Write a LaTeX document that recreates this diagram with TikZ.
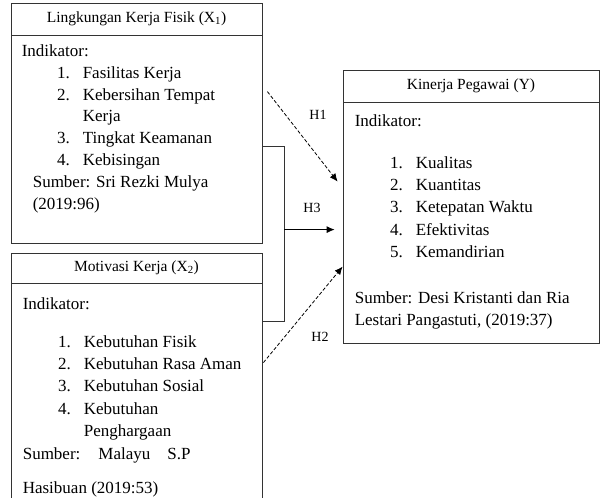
\documentclass[tikz,border=0pt]{standalone}
\usepackage{fontspec}
\setmainfont{Liberation Serif}
\usetikzlibrary{arrows.meta,positioning}
\newcommand{\itm}[2]{\makebox[48pt][r]{#1}\hspace{13pt}#2}
\newcommand{\cnt}[1]{\hspace*{61pt}#1}
\tikzset{
  box/.style={draw=black!80, line width=0.8pt},
  hdr/.style={draw=black!80, line width=0.8pt, anchor=north west, minimum height=32pt, inner sep=0pt, font=\fontsize{15.5}{18}\selectfont},
  txt/.style={anchor=north west, align=left, inner sep=0pt, font=\fontsize{17}{22.4}\selectfont},
  hlab/.style={font=\fontsize{14}{16}\selectfont},
  link/.style={line width=0.8pt, draw=black},
  dashlink/.style={link, dash pattern=on 3.5pt off 2pt, -{Latex[length=8pt,width=7pt]}},
}

\begin{document}
\begin{tikzpicture}[x=1pt, y=-1pt]
    \useasboundingbox (0,0) rectangle (600,498);
    % boxes
    \node[box, minimum width=251pt, minimum height=240pt] (x1) at (136.5,123) {};
    \node[hdr, minimum width=251pt] (x1h) at (x1.north west) {Lingkungan Kerja Fisik (X\textsubscript{1})};
    \node[txt, font=\fontsize{17}{21.8}\selectfont] at ([xshift=11pt, yshift=-42pt]x1.north west) (x1t) {Indikator:\\
        \itm{1.}{Fasilitas Kerja}\\
        \itm{2.}{Kebersihan Tempat}\\
        \cnt{Kerja}\\
        \itm{3.}{Tingkat Keamanan}\\
        \itm{4.}{Kebisingan}\\
        \hspace*{11pt}Sumber: Sri Rezki Mulya\\
        \hspace*{11pt}(2019:96)};

    \node[box, minimum width=251pt, minimum height=250pt] (x2) at (136.5,378) {};
    \node[hdr, minimum width=251pt, minimum height=30pt] (x2h) at (x2.north west) {Motivasi Kerja (X\textsubscript{2})};
    \node[txt] at ([xshift=12pt, yshift=-45pt]x2.north west) (x2t) {Indikator:\\[15pt]
        \itm{1.}{Kebutuhan Fisik}\\
        \itm{2.}{Kebutuhan Rasa Aman}\\
        \itm{3.}{Kebutuhan Sosial}\\
        \itm{4.}{Kebutuhan}\\
        \cnt{Penghargaan}\\
        Sumber:\hspace{18pt}Malayu\hspace{17pt}S.P\\[12pt]
        Hasibuan (2019:53)};

    \node[box, minimum width=256pt, minimum height=273pt] (y) at (471,206.5) {};
    \node[hdr, minimum width=256pt] (yh) at (y.north west) {Kinerja Pegawai (Y)};
    \node[txt] at ([xshift=12pt, yshift=-45pt]y.north west) (yt) {Indikator:\\[19pt]
        \itm{1.}{Kualitas}\\
        \itm{2.}{Kuantitas}\\
        \itm{3.}{Ketepatan Waktu}\\
        \itm{4.}{Efektivitas}\\
        \itm{5.}{Kemandirian}\\[23pt]
        Sumber: Desi Kristanti dan Ria\\
        Lestari Pangastuti, (2019:37)};

    % bracket for H3
    \coordinate (bt) at ([xshift=22pt, yshift=-144pt]x1.north east);
    \coordinate (bb) at ([xshift=22pt, yshift=-69pt]x2.north east);
    \coordinate (h3s) at ([xshift=22pt, yshift=-227pt]x1.north east);
    \draw[link, draw=black!80] ([yshift=-144pt]x1.north east) -- (bt) -- (bb) -- ([yshift=-69pt]x2.north east);
    \draw[link, -{Latex[length=8pt,width=7pt]}] (h3s) -- ([xshift=-8pt, yshift=-160pt]y.north west);

    % dashed paths
    \draw[dashlink] ([xshift=5pt, yshift=-89pt]x1.north east) -- ([xshift=-5pt, yshift=-112pt]y.north west);
    \draw[dashlink] ([xshift=1pt, yshift=-110pt]x2.north east) -- ([yshift=-197pt]y.north west);

    \node[hlab] at (318,115) (h1) {H1};
    \node[hlab] at (312,208) (h3) {H3};
    \node[hlab] at (320,337) (h2) {H2};
\end{tikzpicture}
\end{document}
